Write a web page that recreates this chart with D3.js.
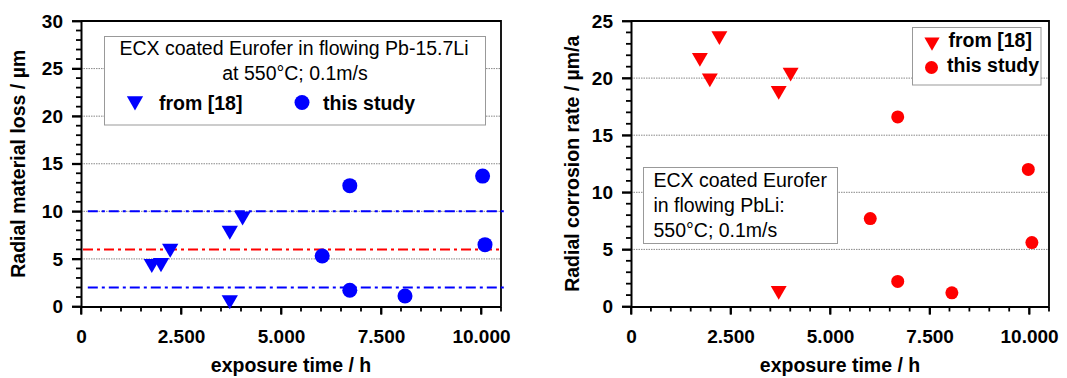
<!DOCTYPE html>
<html>
<head>
<meta charset="utf-8">
<script src="https://cdn.jsdelivr.net/npm/d3@7"></script>
<style>
  body { margin: 0; background: #fff; }
  text { font-family: "Liberation Sans", Arial, sans-serif; }
</style>
</head>
<body>
<div id="chart"></div>
<script>
var svgWidth = 1067;
var svgHeight = 378;

// exposure time (h) and values
var lossRefTime = [1770, 2000, 2230, 3720, 4040, 3720];
var lossRefValue = [4.5, 4.6, 6.1, 8.0, 9.5, 0.7];
var lossStudyTime = [6720, 10040, 6030, 10100, 6720, 8100];
var lossStudyValue = [12.7, 13.7, 5.3, 6.5, 1.7, 1.1];

var rateRefTime = [1730, 2220, 1980, 3710, 4010, 3710];
var rateRefValue = [21.8, 23.7, 20.0, 18.9, 20.5, 1.4];
var rateStudyTime = [6700, 9980, 6010, 10070, 6700, 8060];
var rateStudyValue = [16.6, 12.0, 7.7, 5.6, 2.2, 1.2];

// horizontal reference levels in the left chart
var refLevels = [10, 6, 2];
var refStart = [170, 50, 170];
var refEnd = [10650, 10550, 10650];

var xTicks = [0, 2500, 5000, 7500, 10000];
var lossTicks = [0, 5, 10, 15, 20, 25, 30];
var rateTicks = [0, 5, 10, 15, 20, 25];

var fmt = d3.formatLocale({decimal: ",", thousands: ".", grouping: [3], currency: ["", ""]}).format(",");

var svg = d3.select("#chart")
  .append("svg")
  .attr("width", svgWidth)
  .attr("height", svgHeight);

function drawPanel(p) {
  var width = p.right - p.left;
  var height = p.bottom - p.top;
  var g = svg.append("g").attr("transform", `translate(${p.left}, ${p.top})`);

  var x = d3.scaleLinear().domain([0, 10500]).range([0, width]);
  var y = d3.scaleLinear().domain([0, p.yMax]).range([height, 0]);

  // grid lines
  g.selectAll("line.grid")
    .data(p.yTicks.filter(d => d > 0 && d < p.yMax))
    .enter().append("line")
    .attr("x1", 0).attr("x2", width)
    .attr("y1", d => y(d)).attr("y2", d => y(d))
    .attr("stroke", "#888")
    .attr("stroke-width", 1)
    .attr("stroke-dasharray", "1.5,1");

  // frame top & right
  g.append("path")
    .attr("d", `M0,0H${width}V${height}`)
    .attr("fill", "none")
    .attr("stroke", "#000")
    .attr("stroke-width", 1.8);

  // tick marks (major + minor), pointing outwards
  var allX = d3.range(0, 10501, 500);
  var allY = d3.range(0, p.yMax + 0.1, 1);
  g.selectAll("line.xt")
    .data(allX).enter().append("line")
    .attr("x1", d => x(d)).attr("x2", d => x(d))
    .attr("y1", height).attr("y2", d => height + (d % 2500 == 0 ? 8 : 5))
    .attr("stroke", "#000").attr("stroke-width", 1.8);
  g.selectAll("line.yt")
    .data(allY).enter().append("line")
    .attr("y1", d => y(d)).attr("y2", d => y(d))
    .attr("x1", 0).attr("x2", d => (d % 5 == 0 ? -9 : -5))
    .attr("stroke", "#000").attr("stroke-width", 1.8);

  var xAxis = g.append("g")
    .attr("transform", `translate(0, ${height})`)
    .call(d3.axisBottom(x).tickValues(xTicks).tickSize(8).tickPadding(15).tickFormat(fmt).tickSizeOuter(0));
  var yAxis = g.append("g")
    .call(d3.axisLeft(y).tickValues(p.yTicks).tickSize(9).tickPadding(9).tickSizeOuter(0));

  [xAxis, yAxis].forEach(function(a) {
    a.selectAll("text")
      .style("font-size", "19px")
      .style("font-weight", "bold")
      .attr("fill", "#000");
    a.selectAll(".tick line").attr("stroke", "#000").attr("stroke-width", 1.8);
    a.select(".domain").attr("stroke", "#000").attr("stroke-width", 2);
  });

  // axis titles
  svg.append("text")
    .attr("transform", `translate(${p.titleX}, ${p.top + height / 2}) rotate(-90)`)
    .attr("text-anchor", "middle")
    .style("font-size", "19.5px")
    .style("font-weight", "bold")
    .text(p.yTitle);

  svg.append("text")
    .attr("x", p.left + width / 2)
    .attr("y", 372)
    .attr("text-anchor", "middle")
    .style("font-size", "19.5px")
    .style("font-weight", "bold")
    .text("exposure time / h");

  return {g: g, x: x, y: y, width: width, height: height};
}

var tri = d3.symbol().type(d3.symbolTriangle);

function drawPoints(panel, times, values, kind, color, size) {
  var pts = times.map((t, i) => ({t: t, v: values[i]}));
  if (kind == "tri") {
    panel.g.selectAll(null)
      .data(pts).enter().append("path")
      .attr("d", tri.size(size))
      .attr("transform", d => `translate(${panel.x(d.t)}, ${panel.y(d.v)}) rotate(180)`)
      .attr("fill", color);
  } else {
    panel.g.selectAll(null)
      .data(pts).enter().append("circle")
      .attr("cx", d => panel.x(d.t))
      .attr("cy", d => panel.y(d.v))
      .attr("r", size)
      .attr("fill", color);
  }
}

// ---- left chart
var left = drawPanel({
  left: 81, right: 501, top: 21, bottom: 306.5,
  yMax: 30, yTicks: lossTicks, titleX: 25,
  yTitle: "Radial material loss / µm"
});

var refColors = ["#0000ff", "#ff0000", "#0000ff"];
left.g.selectAll("line.ref")
  .data(refLevels).enter().append("line")
  .attr("x1", (d, i) => left.x(refStart[i]))
  .attr("x2", (d, i) => left.x(refEnd[i]))
  .attr("y1", d => left.y(d)).attr("y2", d => left.y(d))
  .attr("stroke", (d, i) => refColors[i])
  .attr("stroke-width", 2)
  .attr("stroke-dasharray", "10,4,3,4");

// legend box (left)
var lg = svg.append("g");
lg.append("rect")
  .attr("x", 104.5).attr("y", 36.5).attr("width", 381).attr("height", 88.5)
  .attr("fill", "#fff").attr("stroke", "#999").attr("stroke-width", 1);
lg.append("text").attr("x", 294).attr("y", 55).attr("text-anchor", "middle")
  .style("font-size", "19.5px").text("ECX coated Eurofer in flowing Pb-15.7Li");
lg.append("text").attr("x", 295).attr("y", 80).attr("text-anchor", "middle")
  .style("font-size", "19.5px").text("at 550°C; 0.1m/s");
lg.append("path").attr("d", tri.size(115))
  .attr("transform", "translate(135, 101) rotate(180)").attr("fill", "#0000ff");
lg.append("text").attr("x", 159).attr("y", 110)
  .style("font-size", "19.5px").style("font-weight", "bold").text("from [18]");
lg.append("circle").attr("cx", 302).attr("cy", 102.5).attr("r", 7.5).attr("fill", "#0000ff");
lg.append("text").attr("x", 323).attr("y", 110)
  .style("font-size", "19.5px").style("font-weight", "bold").text("this study");

drawPoints(left, lossRefTime, lossRefValue, "tri", "#0000ff", 115);
drawPoints(left, lossStudyTime, lossStudyValue, "circle", "#0000ff", 7.5);

// ---- right chart
var right = drawPanel({
  left: 631, right: 1049, top: 21, bottom: 306.5,
  yMax: 25, yTicks: rateTicks, titleX: 579,
  yTitle: "Radial corrosion rate / µm/a"
});

var rg = svg.append("g");
rg.append("rect")
  .attr("x", 912.5).attr("y", 27.5).attr("width", 128.5).attr("height", 57.5)
  .attr("fill", "#fff").attr("stroke", "#999").attr("stroke-width", 1);
rg.append("path").attr("d", tri.size(100))
  .attr("transform", "translate(932, 42) rotate(180)").attr("fill", "#ff0000");
rg.append("text").attr("x", 948.5).attr("y", 47)
  .style("font-size", "19.5px").style("font-weight", "bold").text("from [18]");
rg.append("circle").attr("cx", 931.5).attr("cy", 67.5).attr("r", 6.5).attr("fill", "#ff0000");
rg.append("text").attr("x", 947).attr("y", 72)
  .style("font-size", "19.5px").style("font-weight", "bold").text("this study");

var tb = svg.append("g");
tb.append("rect")
  .attr("x", 643.5).attr("y", 167.5).attr("width", 194).attr("height", 76)
  .attr("fill", "#fff").attr("stroke", "#999").attr("stroke-width", 1);
["ECX coated Eurofer", "in flowing PbLi:", "550°C; 0.1m/s"].forEach(function(s, i) {
  tb.append("text").attr("x", 653.5).attr("y", 187 + i * 25)
    .style("font-size", "19.5px").text(s);
});

drawPoints(right, rateRefTime, rateRefValue, "tri", "#ff0000", 110);
drawPoints(right, rateStudyTime, rateStudyValue, "circle", "#ff0000", 6.5);
</script>
</body>
</html>
